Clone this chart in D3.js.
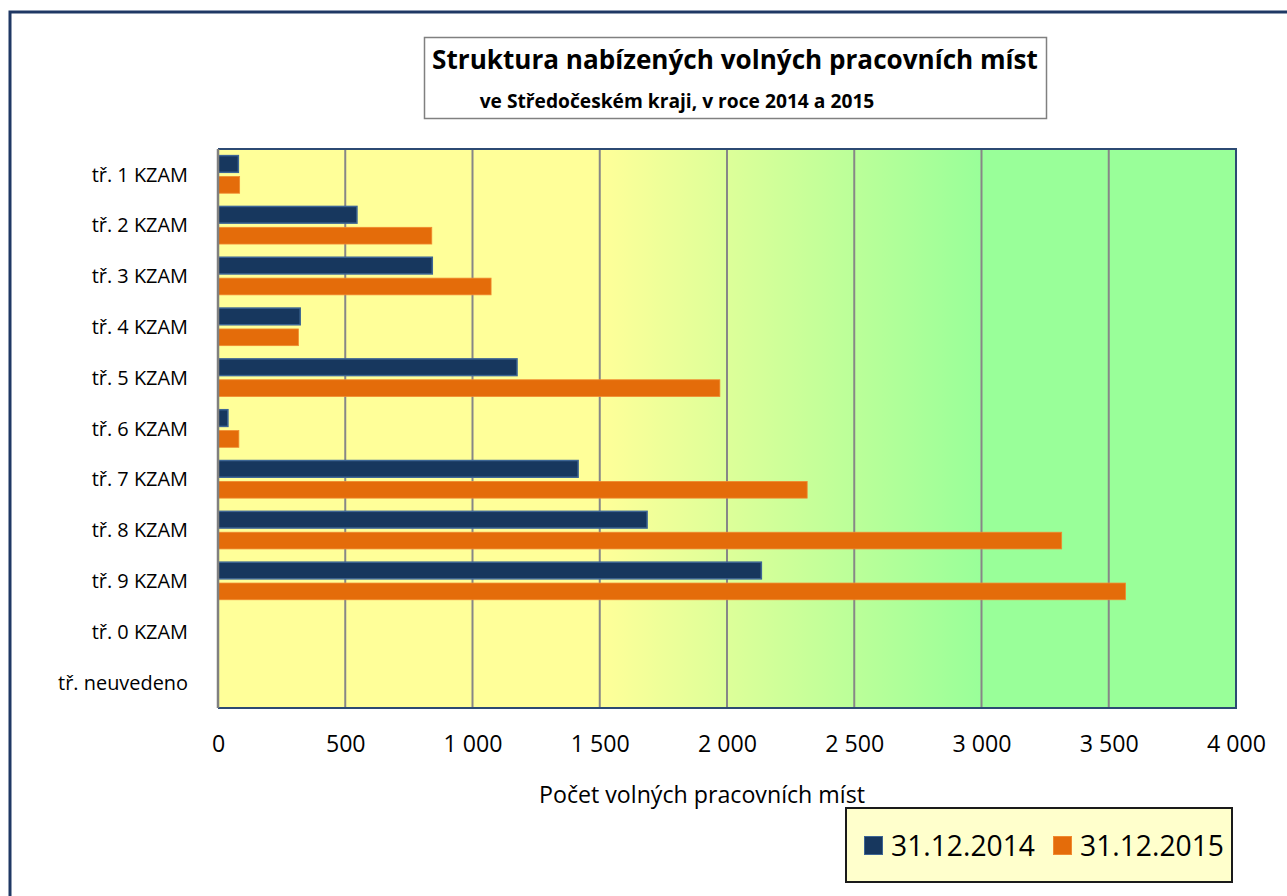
<!DOCTYPE html>
<html>
<head>
<meta charset="utf-8">
<script src="https://cdn.jsdelivr.net/npm/d3@7"></script>
<style>
  body { margin: 0; background: #fff; }
  svg { display: block; }
  svg text { font-family: "Open Sans", Lato, sans-serif; fill: #000; }
  .axis path { display: none; }
  .axis line { display: none; }
</style>
</head>
<body>
<div id="chart"></div>
<script>

var categories = ["tř. 1 KZAM", "tř. 2 KZAM", "tř. 3 KZAM", "tř. 4 KZAM", "tř. 5 KZAM",
    "tř. 6 KZAM", "tř. 7 KZAM", "tř. 8 KZAM", "tř. 9 KZAM", "tř. 0 KZAM", "tř. neuvedeno"];
var series = ["31.12.2014", "31.12.2015"];
var values2014 = [80, 546, 842, 323, 1175, 39, 1415, 1686, 2135, 0, 0];
var values2015 = [85, 840, 1073, 316, 1972, 82, 2315, 3315, 3566, 0, 0];
var xTicks = [0, 500, 1000, 1500, 2000, 2500, 3000, 3500, 4000];
var titleLines = ["Struktura nabízených volných pracovních míst", "ve Středočeském kraji, v roce 2014 a 2015"];
var xTitle = "Počet volných pracovních míst";

var width = 1287
    , height = 896
    , plot = {left: 218, top: 149, right: 1236, bottom: 708}
    , colors = {"31.12.2014": "#17375e", "31.12.2015": "#e46c0a"}
    , strokes = {"31.12.2014": "#3d6594", "31.12.2015": "#f08a30"}
    ;

var cz = d3.formatLocale({decimal: ",", thousands: "\u00a0", grouping: [3], currency: ["", " Kč"]});

var rows = categories.map(function(c, i) {
    return {cat: c, values: [
        {key: series[0], value: values2014[i]},
        {key: series[1], value: values2015[i]}
    ]};
});

// scale font-size so that the widest text of a selection is w px wide
function fit(sel, w) {
    var max = 0;
    sel.each(function() { max = Math.max(max, this.getComputedTextLength()); });
    var fs = parseFloat(sel.style("font-size"));
    if (max > 0) sel.style("font-size", (fs * w / max).toFixed(2) + "px");
    return sel;
}

var svg = d3.select("#chart")
    .append("svg")
    .attr("width", width)
    .attr("height", height);

// outer frame (continues past right / bottom edge)
svg.append("rect")
    .attr("x", 10)
    .attr("y", 12)
    .attr("width", 1400)
    .attr("height", 1000)
    .attr("fill", "#fff")
    .attr("stroke", "#1f3864")
    .attr("stroke-width", 3);

var defs = svg.append("defs");
var grad = defs.append("linearGradient")
    .attr("id", "bg")
    .attr("x1", "0%").attr("x2", "100%")
    .attr("y1", "0%").attr("y2", "0%");
grad.append("stop").attr("offset", "0%").attr("stop-color", "#ffff99");
grad.append("stop").attr("offset", "37.5%").attr("stop-color", "#ffff99");
grad.append("stop").attr("offset", "75%").attr("stop-color", "#99ff99");
grad.append("stop").attr("offset", "100%").attr("stop-color", "#99ff99");

var x = d3.scaleLinear()
    .domain([0, 4000])
    .range([plot.left, plot.right]);

var y = d3.scaleBand()
    .domain(categories)
    .range([plot.top, plot.bottom])
    .paddingInner(0.26)
    .paddingOuter(0.13);

var y1 = d3.scaleBand()
    .domain(series)
    .range([0, y.bandwidth()])
    .paddingInner(0.2);

// plot background
svg.append("rect")
    .attr("x", plot.left)
    .attr("y", plot.top)
    .attr("width", plot.right - plot.left)
    .attr("height", plot.bottom - plot.top)
    .attr("fill", "url(#bg)");

// gridlines
svg.append("g")
    .selectAll("line")
    .data(xTicks.slice(1, -1))
    .enter().append("line")
    .attr("x1", function(d) { return x(d); })
    .attr("x2", function(d) { return x(d); })
    .attr("y1", plot.top)
    .attr("y2", plot.bottom)
    .attr("stroke", "#878787")
    .attr("stroke-width", 2);

// bars
var groups = svg.append("g")
    .selectAll("g")
    .data(rows)
    .enter().append("g")
    .attr("transform", function(d) { return "translate(0," + y(d.cat) + ")"; });

groups.selectAll("rect")
    .data(function(d) { return d.values.filter(function(v) { return v.value > 0; }); })
    .enter().append("rect")
    .attr("x", x(0))
    .attr("y", function(d) { return y1(d.key); })
    .attr("width", function(d) { return x(d.value) - x(0); })
    .attr("height", y1.bandwidth())
    .attr("fill", function(d) { return colors[d.key]; })
    .attr("stroke", function(d) { return strokes[d.key]; })
    .attr("stroke-width", function(d) { return d.key === series[0] ? 1.5 : 0.8; });

// plot border
svg.append("path")
    .attr("d", "M" + plot.left + "," + plot.top + "H" + plot.right + "V" + plot.bottom + "H" + plot.left)
    .attr("fill", "none")
    .attr("stroke", "#2c4a73")
    .attr("stroke-width", 2);
svg.append("line")
    .attr("x1", plot.left).attr("x2", plot.left)
    .attr("y1", plot.top).attr("y2", plot.bottom)
    .attr("stroke", "#808080")
    .attr("stroke-width", 2.5);

// axes
var xAxis = d3.axisBottom(x)
    .tickValues(xTicks)
    .tickSize(0)
    .tickPadding(28)
    .tickFormat(cz.format(",d"));

var xLabels = svg.append("g")
    .attr("class", "axis axis--x")
    .attr("transform", "translate(0," + plot.bottom + ")")
    .call(xAxis)
    .attr("font-family", null)
    .selectAll("text")
    .style("font-size", "20px");
fit(xLabels, 59);

var yAxis = d3.axisLeft(y)
    .tickSize(0)
    .tickPadding(30);

var yLabels = svg.append("g")
    .attr("class", "axis axis--y")
    .attr("transform", "translate(" + plot.left + ",0)")
    .call(yAxis)
    .attr("font-family", null)
    .selectAll("text")
    .attr("dy", "0.36em")
    .style("font-size", "19px");
fit(yLabels, 130);

fit(svg.append("text")
    .attr("x", 702)
    .attr("y", 803)
    .attr("text-anchor", "middle")
    .style("font-size", "20px")
    .text(xTitle), 326);

// title box
svg.append("rect")
    .attr("x", 424.5)
    .attr("y", 37.5)
    .attr("width", 622)
    .attr("height", 81)
    .attr("fill", "#fff")
    .attr("stroke", "#808080")
    .attr("stroke-width", 1.5);

fit(svg.append("text")
    .attr("x", 735)
    .attr("y", 69)
    .attr("text-anchor", "middle")
    .style("font-size", "24px")
    .style("font-weight", "bold")
    .text(titleLines[0]), 606);

fit(svg.append("text")
    .attr("x", 677)
    .attr("y", 108)
    .attr("text-anchor", "middle")
    .style("font-size", "20px")
    .style("font-weight", "bold")
    .text(titleLines[1]), 395);

// legend
var legend = svg.append("g")
    .attr("transform", "translate(846,808)");

legend.append("rect")
    .attr("width", 386)
    .attr("height", 74)
    .attr("fill", "#ffffcc")
    .attr("stroke", "#1a1a1a")
    .attr("stroke-width", 2);

var items = legend.selectAll("g.item")
    .data(series)
    .enter().append("g")
    .attr("class", "item")
    .attr("transform", function(d, i) { return "translate(" + (18 + i * 189) + ",0)"; });

items.append("rect")
    .attr("x", 0.5)
    .attr("y", 28.5)
    .attr("width", 18)
    .attr("height", 18)
    .attr("fill", function(d) { return colors[d]; })
    .attr("stroke", function(d) { return strokes[d]; })
    .attr("stroke-width", 1);

fit(items.append("text")
    .attr("x", 27)
    .attr("y", 48)
    .style("font-size", "28px")
    .text(function(d) { return d; }), 144);

</script>
</body>
</html>
